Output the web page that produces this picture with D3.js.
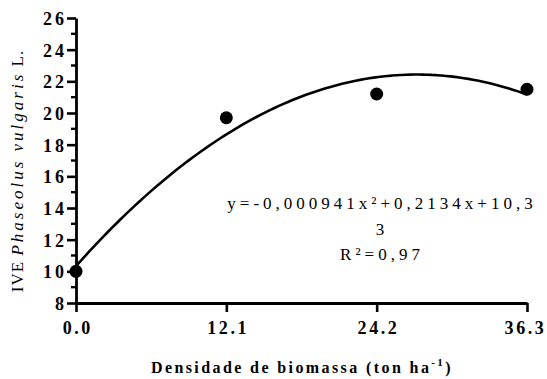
<!DOCTYPE html>
<html>
<head>
<meta charset="utf-8">
<script src="https://cdn.jsdelivr.net/npm/d3@7"></script>
<style>
  html, body { margin: 0; padding: 0; background: #fff; }
  svg { display: block; }
</style>
</head>
<body>
<svg id="chart" width="547" height="379" font-family="'Liberation Serif', 'Times New Roman', serif"></svg>
<script>
// observed points
const densities = [0, 12.1, 24.2, 36.3];
const iveValues = [10.0, 19.7, 21.2, 21.5];
const xTicks = [0, 12.1, 24.2, 36.3];
const yTicks = [8, 10, 12, 14, 16, 18, 20, 22, 24, 26];
// fitted curve coefficients (x in the fit's own units, 0..150)
const fitCoef = [10.33, 0.2134, -0.000941];
const fitXMax = 150;
const equationLines = ['y=-0,000941x²+0,2134x+10,3', '3', 'R²=0,97'];

const SERIF = "'Liberation Serif', 'Times New Roman', serif";

const svg = d3.select('#chart');
const x = d3.scaleLinear().domain([0, 36.3]).range([76, 527]);
const y = d3.scaleLinear().domain([8, 26]).range([303, 18]);

// minor y ticks
svg.append('g')
  .selectAll('line')
  .data(d3.range(9, 26, 2))
  .join('line')
  .attr('x1', x(0) - 5).attr('x2', x(0))
  .attr('y1', d => y(d)).attr('y2', d => y(d))
  .attr('stroke', '#000').attr('stroke-width', 2.4);

const yAxis = svg.append('g')
  .attr('transform', `translate(${x(0)},0)`)
  .call(d3.axisLeft(y).tickValues(yTicks).tickSize(9).tickSizeOuter(0).tickPadding(3));
yAxis.attr('font-family', null).attr('font-size', null);
yAxis.select('.domain').attr('stroke-width', 2.8);
yAxis.selectAll('.tick line').attr('stroke-width', 2.6);
yAxis.selectAll('.tick text')
  .attr('dx', 3)
  .attr('dy', '0.36em')
  .style('font-family', SERIF)
  .style('font-size', '18px').style('font-weight', 'bold')
  .style('letter-spacing', '3px');

const xAxis = svg.append('g')
  .attr('transform', `translate(0,${y(8)})`)
  .call(d3.axisBottom(x).tickValues(xTicks).tickFormat(d3.format('.1f')).tickSize(9).tickSizeOuter(0).tickPadding(9));
xAxis.attr('font-family', null).attr('font-size', null);
xAxis.select('.domain').attr('stroke-width', 2.8);
xAxis.selectAll('.tick line').attr('stroke-width', 2.6);
xAxis.selectAll('.tick text')
  .attr('dx', (d, i) => i === xTicks.length - 1 ? -2 : 1.3)
  .style('font-family', SERIF)
  .style('font-size', '18px').style('font-weight', 'bold')
  .style('letter-spacing', '2.6px');

// fitted curve
const fitPts = d3.range(0, 101).map(i => {
  const u = fitXMax * i / 100;
  return [u * 36.3 / fitXMax, fitCoef[0] + fitCoef[1] * u + fitCoef[2] * u * u];
});
svg.append('path')
  .datum(fitPts)
  .attr('fill', 'none')
  .attr('stroke', '#000')
  .attr('stroke-width', 2.6)
  .attr('d', d3.line().x(d => x(d[0])).y(d => y(d[1])).curve(d3.curveMonotoneX));

// points
svg.append('g')
  .selectAll('circle')
  .data(densities.map((d, i) => [d, iveValues[i]]))
  .join('circle')
  .attr('cx', d => x(d[0]))
  .attr('cy', d => y(d[1]))
  .attr('r', 6.5)
  .attr('fill', '#000');

// equation
svg.append('g')
  .selectAll('text')
  .data(equationLines)
  .join('text')
  .attr('x', 382)
  .attr('y', (d, i) => 209 + i * 25.5)
  .attr('text-anchor', 'middle')
  .style('font-family', SERIF)
  .style('font-size', '17px')
  .style('letter-spacing', '4px')
  .text(d => d);

// x title
const xt = svg.append('text')
  .attr('x', 302)
  .attr('y', 373)
  .attr('text-anchor', 'middle')
  .style('font-family', SERIF)
  .style('font-size', '16px')
  .style('font-weight', 'bold')
  .style('letter-spacing', '2.4px');
xt.append('tspan').text('Densidade de biomassa (ton ha');
xt.append('tspan').attr('dy', -7).style('font-size', '11px').text('-1');
xt.append('tspan').attr('dy', 7).text(')');

// y title
const yt = svg.append('text')
  .attr('transform', 'translate(23,171) rotate(-90)')
  .attr('text-anchor', 'middle')
  .style('font-family', SERIF)
  .style('font-size', '17px')
  .style('letter-spacing', '1px');
yt.append('tspan').text('IVE ');
yt.append('tspan').style('font-style', 'italic').style('letter-spacing', '3px').text('Phaseolus vulgaris');
yt.append('tspan').text(' L.');
</script>
</body>
</html>
